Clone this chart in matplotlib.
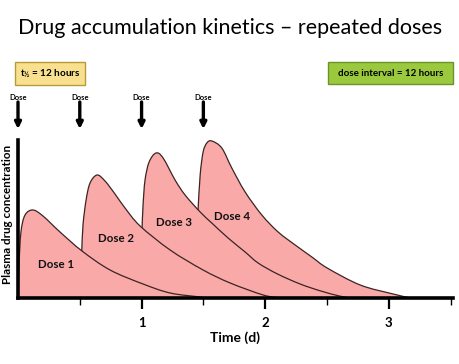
import matplotlib
matplotlib.use("Agg")
import matplotlib.pyplot as plt
from matplotlib.path import Path
from matplotlib.patches import PathPatch, FancyBboxPatch
import numpy as np

plt.rcParams['font.family'] = ['Lato', 'DejaVu Sans']
plt.rcParams['mathtext.fontset'] = 'custom'
plt.rcParams['mathtext.bf'] = 'Lato:bold'
plt.rcParams['mathtext.rm'] = 'Lato'

title = "Drug accumulation kinetics \u2013 repeated doses"
xlabel = "Time (d)"
ylabel = "Plasma drug concentration"
dose_times = [0.0, 0.5, 1.0, 1.5]
dose_labels = ["Dose 1", "Dose 2", "Dose 3", "Dose 4"]
label_pos_t = [0.31, 0.79, 1.26, 1.73]
label_pos_c = [34, 59, 76, 82]

# cumulative concentration curves (time in days, concentration arbitrary units)
dose1_t = [0.0, 0.008, 0.024, 0.057, 0.121, 0.202, 0.340, 0.518, 0.745, 1.012, 1.231, 1.474, 1.538]
dose1_c = [0, 33, 66, 83, 88, 82, 66, 47, 28, 14, 5, 1, 0]
dose2_t = [0.516, 0.526, 0.551, 0.583, 0.640, 0.704, 0.785, 0.866, 0.988, 1.231, 1.498, 1.717, 1.984, 2.121]
dose2_c = [47, 73, 98, 115, 123, 117, 104, 90, 72, 48, 28, 15, 3, 0]
dose3_t = [1.004, 1.012, 1.028, 1.061, 1.117, 1.174, 1.271, 1.352, 1.474, 1.568, 1.700, 1.838, 1.943,
           2.100, 2.283, 2.450, 2.600, 2.690]
dose3_c = [70, 93, 118, 136, 145, 140, 118, 103, 86, 75, 60, 46, 35, 24, 14, 7, 2, 0]
dose4_t = [1.457, 1.474, 1.498, 1.528, 1.568, 1.649, 1.730, 1.838, 1.973, 2.105, 2.243, 2.378, 2.502,
           2.769, 3.036, 3.174]
dose4_c = [88, 123, 146, 155, 157, 150, 130, 106, 83, 66, 53, 41, 30, 13, 4, 0]

curves = [(dose1_t, dose1_c), (dose2_t, dose2_c), (dose3_t, dose3_c), (dose4_t, dose4_c)]

major_ticks = [1, 2, 3]
minor_ticks = [0.5, 1.5, 2.5, 3.5]

W, H = 460, 364
fig = plt.figure(figsize=(W / 100, H / 100), dpi=100)
ax = fig.add_axes([18 / W, 1 - 298 / H, (453 - 18) / W, (298 - 140) / H])
ax.set_xlim(0, 3.52)
ax.set_ylim(0, 158)

fill_col = '#F9A9A7'
line_col = '#3B2424'


def smooth_verts(t, c):
    P = np.column_stack([t, c]).astype(float)
    n = len(P)
    verts = [P[0]]
    codes = [Path.MOVETO]
    for i in range(n - 1):
        p0 = P[i - 1] if i > 0 else P[i]
        p1 = P[i]
        p2 = P[i + 1]
        p3 = P[i + 2] if i + 2 < n else P[i + 1]
        c1 = p1 + (p2 - p0) / 6.0
        c2 = p2 - (p3 - p1) / 6.0
        verts += [c1, c2, p2]
        codes += [Path.CURVE4] * 3
    return verts, codes


for t, c in curves:
    verts, codes = smooth_verts(t, c)
    fv = list(verts) + [(t[-1], 0), (t[0], 0), (t[0], c[0])]
    fc = list(codes) + [Path.LINETO, Path.LINETO, Path.CLOSEPOLY]
    ax.add_patch(PathPatch(Path(fv, fc), facecolor=fill_col, edgecolor='none', zorder=1))

for t, c in curves:
    verts, codes = smooth_verts(t, c)
    ax.add_patch(PathPatch(Path(verts, codes), facecolor='none', edgecolor=line_col, lw=0.9, zorder=2))

for lab, tx, cy in zip(dose_labels, label_pos_t, label_pos_c):
    ax.text(tx, cy, lab, ha='center', va='center', fontsize=8.3, fontweight='bold', color='#111111', zorder=3)

for s in ['top', 'right']:
    ax.spines[s].set_visible(False)
for s in ['left', 'bottom']:
    ax.spines[s].set_linewidth(2.6)
    ax.spines[s].set_color('black')
ax.set_yticks([])
ax.set_xticks(major_ticks)
ax.set_xticklabels([str(v) for v in major_ticks], fontsize=9.5, fontweight='bold')
ax.set_xticks(minor_ticks, minor=True)
ax.tick_params(axis='x', which='major', direction='out', length=8, width=1.6, pad=6)
ax.tick_params(axis='x', which='minor', direction='out', length=5, width=1.0)
ax.set_xlabel(xlabel, fontsize=10, fontweight='bold', labelpad=1)
ax.set_ylabel(ylabel, fontsize=8.4, fontweight='bold')
ax.yaxis.set_label_coords(-0.011, 0.53)

fig.text(0.5, 1 - 28 / H, title, ha='center', va='center', fontsize=15.5)

# info boxes
def box(x0, y0, x1, y1, fc, ec, txt, fs):
    fig.patches.append(FancyBboxPatch((x0 / W, 1 - y1 / H), (x1 - x0) / W, (y1 - y0) / H,
                                      boxstyle='square,pad=0', transform=fig.transFigure,
                                      facecolor=fc, edgecolor=ec, lw=1.0))
    fig.text((x0 + x1) / 2 / W, 1 - (y0 + y1) / 2 / H, txt, ha='center', va='center',
             fontsize=fs, fontweight='bold')

box(15, 62, 85, 85, '#F8E08E', '#B99A3A', '$\\mathbf{t}_{\\mathbf{\u00bd}}$ = 12 hours', 7.2)
box(328, 62, 453, 84, '#9BC93D', '#6E922A', 'dose interval = 12 hours', 7.0)

for dt in dose_times:
    ax.annotate('Dose', xy=(dt, 1 - 97 / H), xycoords=('data', 'figure fraction'),
                ha='center', va='center', fontsize=5.5, fontweight='bold', annotation_clip=False)
    ax.annotate('', xy=(dt, 1 - 129 / H), xytext=(dt, 1 - 102 / H),
                xycoords=('data', 'figure fraction'), textcoords=('data', 'figure fraction'),
                arrowprops=dict(arrowstyle='-|>', lw=2.4, color='black', mutation_scale=9,
                                shrinkA=0, shrinkB=0), annotation_clip=False)

fig.savefig('out.png', dpi=100)
